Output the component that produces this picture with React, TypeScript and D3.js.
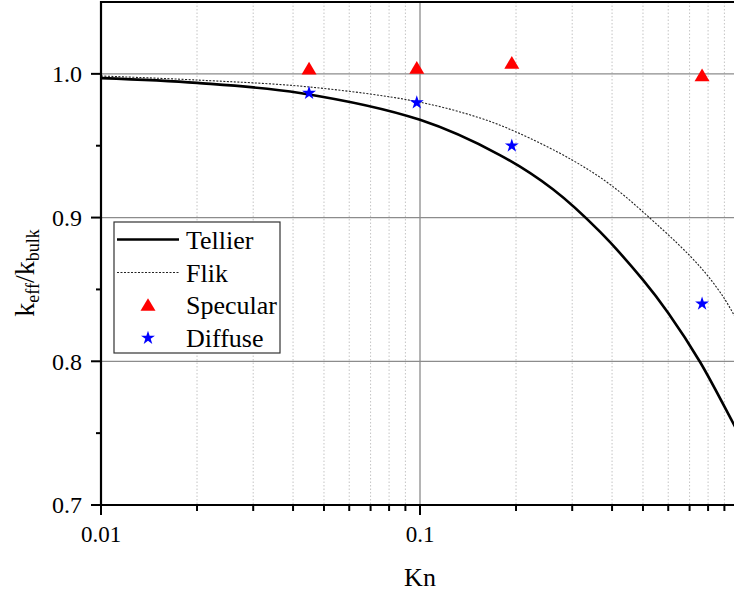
import React from "react";
import * as d3 from "d3";

const tellierKn = [0.01, 0.02, 0.042, 0.1, 0.178, 0.261, 0.367, 0.5, 0.6, 0.755, 0.958, 1.0];
const tellierK = [0.997, 0.9937, 0.9867, 0.968, 0.9435, 0.9197, 0.89, 0.8566, 0.8336, 0.7995, 0.7571, 0.7494];

const flikKn = [0.01, 0.02, 0.0449, 0.0979, 0.1542, 0.2, 0.2996, 0.4, 0.5736, 0.7021, 0.7993, 0.8975, 0.9646, 1.0];
const flikK = [0.9985, 0.9957, 0.9909, 0.9807, 0.9693, 0.9596, 0.9401, 0.922, 0.892, 0.8733, 0.8593, 0.844, 0.8322, 0.826];

const specKn = [0.0449, 0.0977, 0.194, 0.766];
const specK = [1.004, 1.0045, 1.008, 0.9993];

const diffKn = [0.0449, 0.0977, 0.194, 0.766];
const diffK = [0.9866, 0.98, 0.95, 0.84];

const yMajor = [0.7, 0.8, 0.9, 1.0];
const yMinor = [0.75, 0.85, 0.95];
const xMajor = [0.01, 0.1, 1];
const xLabels = ["0.01", "0.1"];
const legendLabels = ["Tellier", "Flik", "Specular", "Diffuse"];

const W = 734;
const H = 594;
const L = 101, R = 739, T = 2, B = 505;
const FONT = "'Liberation Serif', 'Times New Roman', serif";

export default function App() {
  const x = d3.scaleLog().domain([0.01, 1]).range([L, R]);
  const y = d3.scaleLinear().domain([0.7, 1.05]).range([B, T]);

  const xMinor: number[] = [];
  [0.01, 0.1].forEach((d) => {
    for (let i = 2; i <= 9; i++) xMinor.push(d * i);
  });

  const line = d3
    .line<[number, number]>()
    .x((d) => x(d[0]))
    .y((d) => y(d[1]))
    .curve(d3.curveCatmullRom.alpha(0.5));

  const tellier = line(tellierKn.map((k, i) => [k, tellierK[i]] as [number, number])) || "";
  const flik = line(flikKn.map((k, i) => [k, flikK[i]] as [number, number])) || "";

  const star = d3.symbol(d3.symbolStar, 60);
  const tri = (cx: number, cy: number) => {
    const w = 7.5, h = 6.3;
    return `M${cx},${cy - h}L${cx + w},${cy + h}L${cx - w},${cy + h}Z`;
  };

  const legX = 114, legY = 222, legW = 166, legH = 131;
  const rowBase = [249, 281.7, 314.3, 346.8];

  return (
    <svg
      width={W}
      height={H}
      style={{ position: "absolute", left: 0, top: 0, background: "#fff" }}
      fontFamily={FONT}
    >
      <defs>
        <clipPath id="plot">
          <rect x={L} y={T} width={R - L} height={B - T} />
        </clipPath>
      </defs>
      <rect x={0} y={0} width={W} height={H} fill="#fff" />

      {/* minor vertical grid */}
      {xMinor.map((d, i) => (
        <line key={"mg" + i} x1={x(d)} x2={x(d)} y1={T} y2={B} stroke="#c4c4c4" strokeWidth={1} strokeDasharray="1.5,2" />
      ))}
      {/* major grid */}
      <line x1={x(0.1)} x2={x(0.1)} y1={T} y2={B} stroke="#8c8c8c" strokeWidth={1.3} />
      {[0.8, 0.9, 1.0].map((d) => (
        <line key={"hg" + d} x1={L} x2={R} y1={y(d)} y2={y(d)} stroke="#8c8c8c" strokeWidth={1.3} />
      ))}

      {/* curves */}
      <g clipPath="url(#plot)">
        <path d={flik} fill="none" stroke="#222" strokeWidth={1.1} strokeDasharray="2,1.5" />
        <path d={tellier} fill="none" stroke="#000" strokeWidth={2.6} />
      </g>

      {/* markers */}
      {specKn.map((k, i) => (
        <path key={"s" + i} d={tri(x(k), y(specK[i]))} fill="#ff0000" />
      ))}
      {diffKn.map((k, i) => (
        <path
          key={"d" + i}
          d={star() || ""}
          transform={`translate(${x(k)},${y(diffK[i])})`}
          fill="#0000ff"
        />
      ))}

      {/* axes frame */}
      <line x1={L} x2={L} y1={T - 1} y2={B + 1} stroke="#000" strokeWidth={2.2} />
      <line x1={L - 1} x2={R} y1={B} y2={B} stroke="#000" strokeWidth={2.2} />
      <line x1={L - 1} x2={R} y1={T} y2={T} stroke="#000" strokeWidth={2.2} />
      <line x1={R} x2={R} y1={T} y2={B} stroke="#000" strokeWidth={2.2} />

      {/* y ticks */}
      {yMajor.map((d) => (
        <g key={"yt" + d}>
          <line x1={L - 10} x2={L} y1={y(d)} y2={y(d)} stroke="#000" strokeWidth={2} />
          <text x={82} y={y(d)} dy="0.35em" textAnchor="end" fontSize={24} fill="#000">
            {d3.format(".1f")(d)}
          </text>
        </g>
      ))}
      {yMinor.map((d) => (
        <line key={"ym" + d} x1={L - 5} x2={L} y1={y(d)} y2={y(d)} stroke="#000" strokeWidth={2} />
      ))}

      {/* x ticks */}
      {xMajor.map((d) => (
        <line key={"xt" + d} x1={x(d)} x2={x(d)} y1={B} y2={B + 10} stroke="#000" strokeWidth={2} />
      ))}
      {xMinor.map((d, i) => (
        <line key={"xm" + i} x1={x(d)} x2={x(d)} y1={B} y2={B + 6} stroke="#000" strokeWidth={2} />
      ))}
      {xLabels.map((t, i) => (
        <text key={"xl" + t} x={x(xMajor[i])} y={542} textAnchor="middle" fontSize={23} fill="#000">
          {t}
        </text>
      ))}

      {/* axis titles */}
      <text x={420} y={586} textAnchor="middle" fontSize={26} fill="#000">
        Kn
      </text>
      <text transform={`translate(34,273) rotate(-90)`} textAnchor="middle" fontSize={28} fill="#000">
        k<tspan fontSize={18} dy={5}>eff</tspan>
        <tspan dy={-5}>/k</tspan>
        <tspan fontSize={18} dy={5}>bulk</tspan>
      </text>

      {/* legend */}
      <rect x={legX} y={legY} width={legW} height={legH} fill="#fff" stroke="#333" strokeWidth={1.2} />
      <line x1={117} x2={179} y1={239.5} y2={239.5} stroke="#000" strokeWidth={2.6} />
      <line x1={117} x2={179} y1={272.5} y2={272.5} stroke="#222" strokeWidth={1.1} strokeDasharray="2,1.5" />
      <path d={tri(148, 304.5)} fill="#ff0000" />
      <path d={star() || ""} transform="translate(148,338)" fill="#0000ff" />
      {legendLabels.map((t, i) => (
        <text key={t} x={186} y={rowBase[i]} fontSize={26} fill="#000">
          {t}
        </text>
      ))}
    </svg>
  );
}
